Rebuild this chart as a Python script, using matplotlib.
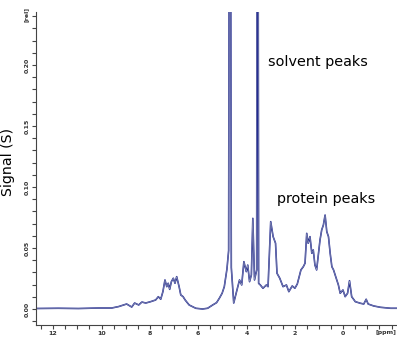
import numpy as np
import matplotlib
matplotlib.use('Agg')
import matplotlib.pyplot as plt
from matplotlib.ticker import MultipleLocator

# chemical shift (ppm) and signal
ppm = [12.79, 11.79, 10.96, 10.13, 9.58, 9.29, 8.96, 8.75, 8.63, 8.46, 8.33, 8.17,
       7.97, 7.76, 7.65, 7.55, 7.46, 7.375, 7.30, 7.24, 7.18, 7.11, 7.03, 6.96,
       6.89, 6.79, 6.72, 6.625, 6.54, 6.375, 6.10, 5.82, 5.61, 5.40, 5.24, 5.125,
       5.01, 4.92, 4.81, 4.74, 4.715, 4.665, 4.63, 4.53, 4.43, 4.29, 4.20, 4.11,
       4.01, 3.95, 3.875, 3.80, 3.74, 3.67, 3.58, 3.565, 3.525, 3.50, 3.43, 3.32, 3.18,
       3.11, 3.00, 2.90, 2.80, 2.74, 2.625, 2.49, 2.35, 2.25, 2.11, 2.00, 1.90,
       1.75, 1.65, 1.58, 1.51, 1.45, 1.375, 1.30, 1.24, 1.17, 1.10, 1.03, 0.96,
       0.89, 0.82, 0.75, 0.68, 0.61, 0.54, 0.47, 0.40, 0.29, 0.20, 0.125, 0.01,
       -0.08, -0.18, -0.26, -0.35, -0.50, -0.71, -0.85, -0.95, -1.03, -1.26, -1.54,
       -1.96, -2.25]
signal = [0.0004, 0.0006, 0.0004, 0.0008, 0.0008, 0.0020, 0.0041, 0.0016, 0.0049, 0.0033, 0.0057, 0.0049,
          0.0060, 0.0074, 0.0101, 0.0080, 0.0142, 0.0238, 0.0183, 0.0211, 0.0161, 0.0224, 0.0252, 0.0211,
          0.0265, 0.0183, 0.0115, 0.0101, 0.0074, 0.0033, 0.0006, 0.0000, 0.0006, 0.0033, 0.0052, 0.0088,
          0.0129, 0.0183, 0.0328, 0.0480, 0.4000, 0.4000, 0.0340, 0.0049, 0.0129, 0.0238, 0.0197, 0.0388,
          0.0306, 0.0360, 0.0224, 0.0279, 0.0743, 0.0238, 0.0320, 0.4000, 0.4000, 0.0210, 0.0197, 0.0170, 0.0197,
          0.0183, 0.0716, 0.0593, 0.0539, 0.0293, 0.0252, 0.0183, 0.0197, 0.0142, 0.0189, 0.0170, 0.0205,
          0.0320, 0.0347, 0.0375, 0.0620, 0.0539, 0.0593, 0.0457, 0.0484, 0.0360, 0.0320, 0.0443, 0.0566,
          0.0648, 0.0689, 0.0770, 0.0634, 0.0593, 0.0457, 0.0347, 0.0320, 0.0252, 0.0197, 0.0129, 0.0156,
          0.0101, 0.0129, 0.0232, 0.0101, 0.0060, 0.0047, 0.0041, 0.0080, 0.0041, 0.0025, 0.0014,
          0.0006, 0.0006]

xticks = [12, 10, 8, 6, 4, 2, 0]
yticks = [0.00, 0.05, 0.10, 0.15, 0.20]

fig = plt.figure(figsize=(3.97, 3.38), dpi=100)
ax = fig.add_axes([0.0907, 0.0385, 0.909, 0.926])

ax.plot(ppm, signal, color='#1a228f', lw=1.15)
ax.plot(ppm, signal, color='#b0b6bd', lw=0.35)

ax.set_xlim(12.71, -2.22)
ax.set_ylim(-0.0131, 0.2434)

for s in ['top', 'right']:
    ax.spines[s].set_visible(False)
for s in ['left', 'bottom']:
    ax.spines[s].set_color('#444444')
    ax.spines[s].set_linewidth(0.8)

ax.set_xticks(xticks)
ax.set_xticklabels([str(t) for t in xticks])
ax.xaxis.set_minor_locator(MultipleLocator(0.5))
ax.set_yticks(yticks)
ax.set_yticklabels(['%.2f' % t for t in yticks], rotation=90, va='center')
ax.yaxis.set_minor_locator(MultipleLocator(0.01))
ax.tick_params(which='both', direction='out', length=3, width=0.8, color='#444444',
               labelsize=4.5, pad=1.5)
for lab in ax.get_xticklabels() + ax.get_yticklabels():
    lab.set_fontweight('bold')
    lab.set_color('#333333')

ax.text(-1.75, -0.0195, '[ppm]', fontsize=4.5, fontweight='bold', color='#333333',
        ha='center', va='center')
ax.text(-0.027, 0.241, '[rel]', transform=ax.get_yaxis_transform(), fontsize=4.5,
        fontweight='bold', color='#333333', rotation=90, ha='center', va='center')

ax.set_ylabel('Signal (S)', fontsize=10.2, labelpad=4)
ax.yaxis.set_label_coords(-0.058, 0.52)

ax.text(3.1, 0.2024, 'solvent peaks', fontsize=10.4, ha='left', va='center')
ax.text(2.75, 0.0902, 'protein peaks', fontsize=10.4, ha='left', va='center')

plt.savefig('out.png', dpi=100)
